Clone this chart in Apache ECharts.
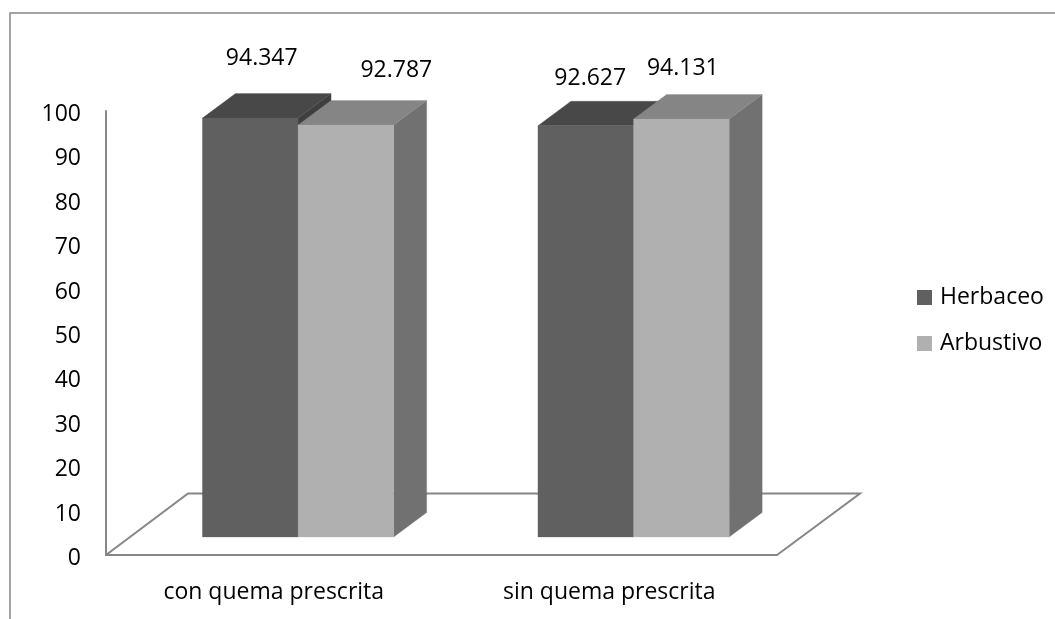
<!DOCTYPE html>
<html>
<head>
<meta charset="utf-8">
<style>html,body{margin:0;padding:0;background:#fff}#c{width:1055px;height:619px}</style>
<script src="https://cdn.jsdelivr.net/npm/echarts@6/dist/echarts.min.js"></script>
</head>
<body>
<div id="c"></div>
<script>
const categories = ['con quema prescrita', 'sin quema prescrita'];
const herbaceo = [94.347, 92.627];
const arbustivo = [92.787, 94.131];
const yTicks = [0, 100, 10];
const seriesNames = ['Herbaceo', 'Arbustivo'];
const palette = [
  {front: '#606060', top: '#484848', side: '#3f3f3f'},
  {front: '#b0b0b0', top: '#858585', side: '#717171'}
];
// drawing layout (not data)
const FONT = '"Open Sans","Noto Sans",sans-serif';
const depth = {x: 33, y: 24.5};
const lift = 18;
const barBandRatio = 0.285;
const centerShift = 24.3;
const labelShift = [[[-5, -47], [34, -42]], [[-12, -35], [-15, -38]]];

function renderBar(params, api) {
  const si = params.seriesIndex;
  const cat = api.value(0);
  const val = api.value(1);
  const w = api.size([1, 0])[0] * barBandRatio;
  const c = api.coord([cat, val]);
  const b = api.coord([cat, 0]);
  const xl = c[0] + centerShift + (si === 0 ? -w : 0);
  const xr = xl + w;
  const yt = c[1] - lift;
  const yb = b[1] - lift;
  const col = palette[si];
  const poly = (points, fill) => ({type: 'polygon', shape: {points}, style: {fill, stroke: fill, lineWidth: 0.3}});
  const midX = c[0] + centerShift + (si === 0 ? -w / 2 : w / 2);
  const off = labelShift[cat][si];
  return {
    type: 'group',
    children: [
      poly([[xr, yt], [xr + depth.x, yt - depth.y], [xr + depth.x, yb - depth.y], [xr, yb]], col.side),
      poly([[xl, yt], [xr, yt], [xr + depth.x, yt - depth.y], [xl + depth.x, yt - depth.y]], col.top),
      poly([[xl, yt], [xr, yt], [xr, yb], [xl, yb]], col.front),
      {type: 'text', style: {
        x: midX + off[0] + depth.x / 2, y: yt + off[1] - depth.y / 2,
        text: String(val), fill: '#000', font: '23px ' + FONT,
        textAlign: 'center', textVerticalAlign: 'middle'
      }}
    ]
  };
}

const chart = echarts.init(document.getElementById('c'), null, {renderer: 'canvas'});
const toRows = arr => arr.map((v, i) => [i, v]);
chart.setOption({
  animation: false,
  backgroundColor: '#fff',
  grid: {left: 106, right: 278, top: 111, bottom: 64, containLabel: false},
  legend: {
    orient: 'vertical', left: 912, top: 281, icon: 'rect',
    itemWidth: 15, itemHeight: 15, itemGap: 23, selectedMode: false,
    data: seriesNames,
    textStyle: {fontFamily: FONT, fontSize: 23, color: '#000', padding: [0, 0, 0, 3]}
  },
  xAxis: {
    type: 'category', data: categories,
    axisLine: {lineStyle: {color: '#868686', width: 2}},
    axisTick: {show: false}, splitLine: {show: false},
    axisLabel: {color: '#000', fontFamily: FONT, fontSize: 23, margin: 26}
  },
  yAxis: {
    type: 'value', min: yTicks[0], max: yTicks[1], interval: yTicks[2],
    axisLine: {show: true, lineStyle: {color: '#868686', width: 2}},
    axisTick: {show: false}, splitLine: {show: false},
    axisLabel: {
      color: '#000', fontFamily: FONT, fontSize: 23, margin: 25,
      formatter: '{t|{value}}',
      rich: {t: {color: '#000', fontFamily: FONT, fontSize: 23, padding: [7, 0, 0, 0]}}
    }
  },
  graphic: [
    {type: 'polyline', z: 0, silent: true, shape: {points: [[10, 619], [10, 13], [1055, 13]]},
     style: {stroke: '#868686', lineWidth: 1.5, fill: null}},
    {type: 'polyline', z: 0, silent: true, shape: {points: [[106, 555], [188, 493.5], [860, 493.5], [777, 555]]},
     style: {stroke: '#868686', lineWidth: 2, fill: null}}
  ],
  series: [
    {type: 'custom', name: seriesNames[0], data: toRows(herbaceo), renderItem: renderBar,
     itemStyle: {color: palette[0].front}, encode: {x: 0, y: 1}, clip: false, z: 3},
    {type: 'custom', name: seriesNames[1], data: toRows(arbustivo), renderItem: renderBar,
     itemStyle: {color: palette[1].front}, encode: {x: 0, y: 1}, clip: false, z: 4}
  ]
});
</script>
</body>
</html>
